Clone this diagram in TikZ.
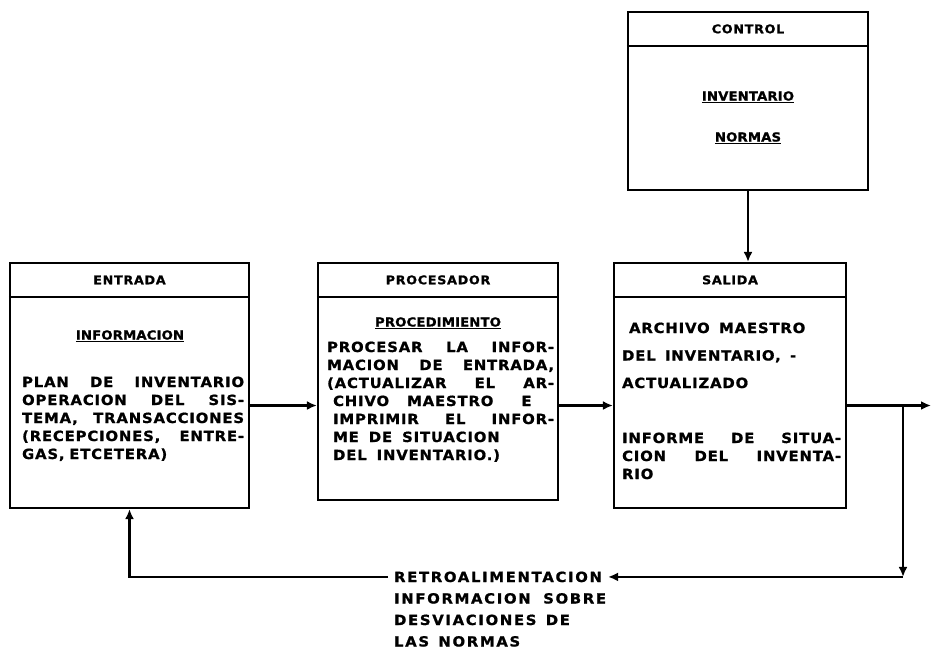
\documentclass[tikz,border=0pt]{standalone}
\usepackage{fontspec}
\setmainfont{DejaVu Sans}[LetterSpace=6,FakeStretch=1.06,FakeBold=1]
\usetikzlibrary{positioning}
\usetikzlibrary{arrows.meta}

\newcommand\anchofila{\linewidth}
\newcommand\fila[1]{\leavevmode\hbox to \anchofila{#1}}

\begin{document}
\begin{tikzpicture}[x=1pt,y=-1pt,->,>={Latex[length=10pt,width=9pt]},line width=2.2pt,
	box/.style={draw,rectangle,inner sep=0pt},
	head/.style={font=\bfseries\fontsize{12}{14}\selectfont},
	ttl/.style={font=\bfseries\fontsize{12.5}{14}\selectfont\addfontfeature{LetterSpace=1}},
	colw/.style={text width=#1,execute at begin node={\def\anchofila{#1}}},
	body/.style={font=\bfseries\fontsize{14}{18}\selectfont,align=left,inner sep=0pt,anchor=base west}]
	
	\useasboundingbox (0,0) rectangle (932,649);
	
	% los cuatro bloques
	\node[box,minimum width=239pt,minimum height=245pt] (entrada) at (129.5,385.5) {};
	\node[box,minimum width=240pt,minimum height=237pt] (procesador) at (438,381.5) {};
	\node[box,minimum width=232pt,minimum height=245pt] (salida) at (730,385.5) {};
	\node[box,minimum width=240pt,minimum height=178pt] (control) at (748,101) {};
	
	\foreach \b in {entrada,procesador,salida,control}
	\draw[-] ([yshift=-35pt]\b.north west) -- ([yshift=-35pt]\b.north east);
	
	\node[head] (entradaH) at ([yshift=-18pt]entrada.north) {ENTRADA};
	\node[head] (procesadorH) at ([yshift=-18pt]procesador.north) {PROCESADOR};
	\node[head] (salidaH) at ([yshift=-18pt]salida.north) {SALIDA};
	\node[head] (controlH) at ([yshift=-18pt]control.north) {CONTROL};
	
	\node[ttl] (informacion) at (130,336) {\underline{INFORMACION}};
	\node[ttl] (procedimiento) at (438,323) {\underline{PROCEDIMIENTO}};
	\node[ttl] (inventario) at (748,97) {\underline{INVENTARIO}};
	\node[ttl] (normas) at (748,138) {\underline{NORMAS}};
	
	\node[body,colw=222pt] (entradaB) at (21,387)
	{\fila{PLAN \hfill DE \hfill INVENTARIO}\\ \fila{OPERACION \hfill DEL \hfill SIS-}\\
		\fila{TEMA, \hfill TRANSACCIONES}\\ \fila{(RECEPCIONES, \hfill ENTRE-}\\ GAS, ETCETERA)};
	\node[body,colw=227pt] (procesadorB) at (326,352)
	{\fila{PROCESAR \hfill LA \hfill INFOR-}\\ \fila{MACION \hfill DE \hfill ENTRADA,}\\
		\fila{(ACTUALIZAR \hfill EL \hfill AR-}\\ \hspace*{6pt}CHIVO\hspace{18pt}MAESTRO\hspace{28pt}E\\
		\fila{\hspace*{6pt}IMPRIMIR \hfill EL \hfill INFOR-}\\
		\hspace*{6pt}ME\hspace{10pt}DE\hspace{10pt}SITUACION\\ \hspace*{6pt}DEL\hspace{10pt}INVENTARIO.)};
	\node[body,colw=219pt,font=\bfseries\fontsize{14}{27.5}\selectfont] (salidaB) at (621,333)
	{\hspace*{7pt}ARCHIVO \ MAESTRO\\ DEL \ INVENTARIO, \ -\\ ACTUALIZADO};
	\node[body,colw=219pt] (salidaC) at (621,443)
	{\fila{INFORME \hfill DE \hfill SITUA-}\\ \fila{CION \hfill DEL \hfill INVENTA-}\\ RIO};
	
	% retroalimentacion
	\node[font=\bfseries\fontsize{14}{14}\selectfont\addfontfeature{LetterSpace=12},
	inner xsep=5pt,inner ysep=0pt,anchor=base west] (fb) at (388,582) {RETROALIMENTACION};
	\node[body,colw=212pt,font=\bfseries\fontsize{14}{21.5}\selectfont\addfontfeature{LetterSpace=12}]
	(fbB) at (393,603.5) {\fila{INFORMACION \hfill SOBRE}\\ DESVIACIONES \ DE\\ LAS \ NORMAS};
	
	\coordinate (fin) at (931,405.5);
	\coordinate (rama) at (903,405.5);
	\coordinate (esquina) at (rama |- fb.east);
	
	\draw ([yshift=-20pt]entrada.east) -- ([yshift=-20pt]entrada.east -| procesador.west);
	\draw ([yshift=-24pt]procesador.east) -- ([yshift=-24pt]procesador.east -| salida.west);
	\draw ([yshift=-20pt]salida.east) -- (fin);
	\draw (control.south) -- (control.south |- salida.north);
	\draw (rama) -- (esquina);
	\draw (esquina) -- (fb.east);
	\draw (fb.west) -| (entrada.south);
\end{tikzpicture}
\end{document}
